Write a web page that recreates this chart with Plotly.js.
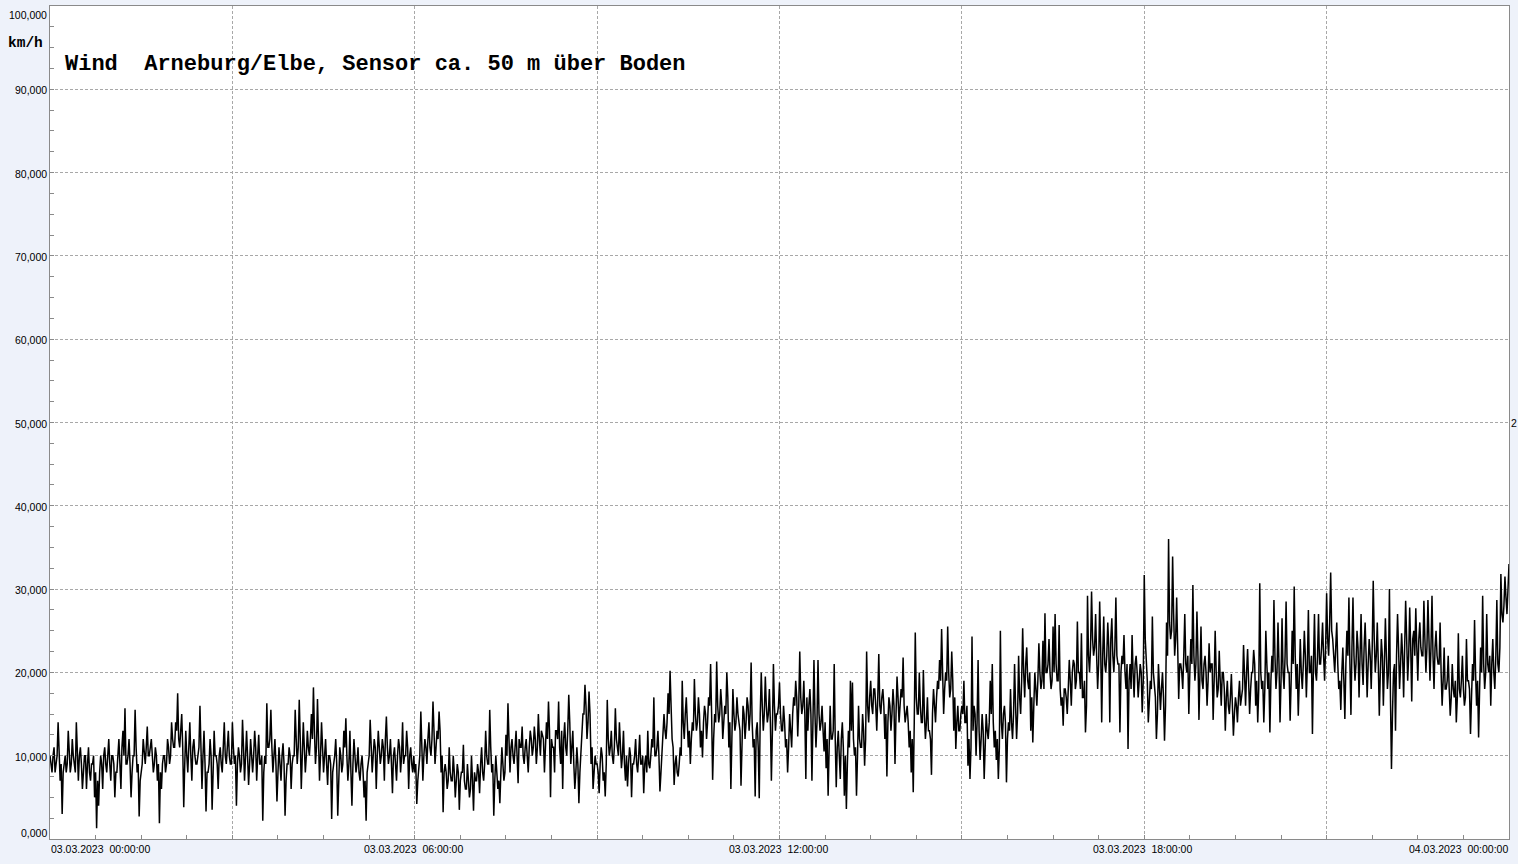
<!DOCTYPE html>
<html><head><meta charset="utf-8">
<script src="https://cdn.plot.ly/plotly-3.0.1.min.js"></script>
<style>html,body{margin:0;padding:0;background:#eef2fa;overflow:hidden}#chart{width:1518px;height:864px}</style>
</head><body><div id="chart"></div>
<script>
// ---- data (km/h) ----
// "peak" arrays: the even minutes (extremes of the trace), "core" arrays: the odd minutes (centre of the dense band)
const startTime = Date.UTC(2023, 2, 3, 0, 0, 0);
const endTime = Date.UTC(2023, 2, 4, 0, 0, 0);
const sampleMinutes = 1;

const wind0003 = [10,8,11,9,14, 7,3,9,8, 13,8,12,9,14,7,11,6, 10,6,11,7,9,5, 1.3, 4,10,6,11,8,12,7,10,5, 8,12,6,13,15.7,9,12,5,10,15.5,8, 2.7, 8,12,9,13.5,10,12,8,11,7, 1.9, 6,10,8,12,9,14,11, 14,17.5,11,15, 3.8,13,8,14,7,12,9, 10,16,6,13, 3.3, 8,12,3.5,13,10,6,11,8,14,9,13,9];
const core0003 = [9,10,8,10,9,9,8,10,9,11, 9,10,8,9,10,9,8,10,9,8, 9,10,8,7,8,9,10,9,10,9, 10,9,8,10,9,11,10,9,10,9, 8,10,11,9,7,9,10,11,10,11, 10,9,10,9,8,9,10,9,11,10, 12,11,13,12,13,11,9,10,11,10, 11,10,9,11,12,10,9,8,9,10, 8,10,9,10,9,11,10,11,10,9];
const wind0306 = [14,9,4,11,8, 14.3,7,13,6.5,12, 8,13,7,12.5,9, 2.2, 10,16.3,11,15.5, 8,12,4.5,11,7,11.5, 2.8, 9,11,6,10, 15.5,9,16.7, 6,14,8,13,10, 15,18.2, 9,16.8,7,14,8,12,6.5,10, 2.4, 9,12,2.8,11,8,13,14.5, 7,13,4,12,8,11, 7,10,5,2.2, 9,14.3,8,12,6,13,9,12,7,14.7, 9,12,5.5,11,7,12,8,14, 10,13,6,11,8];
const core0306 = [11,10,9,10,9,11,10,10,9,10, 10,11,10,9,10,8,9,11,12,11, 10,9,8,9,10,9,7,9,10,9, 10,12,11,12,10,11,10,11,12,12, 13,11,12,10,11,10,9,10,9,8, 10,9,8,10,9,11,10,9,8,9, 10,9,8,9,8,7,8,10,11,10, 11,10,11,10,11,12,11,10,9,10, 9,10,11,10,9,10,11,10,9,10];
const wind0609 = [8,4.2,9,15.3, 7,12,9,14,10,16.5,9,13,15.3, 8,3.2, 9,6,11,7,10,5,9, 3.5,8,11.3,6,9, 5,10,3.4,7,9,5.5, 11,7,13,9,15.5, 8,2.8, 10,6,4.3,11,7,12.5, 16.3, 8,12,9,13,6.7,11,13.5,9,12,8,13,10,13.5, 9,15,10,12.5,8, 14,16.5, 5,11,8,13, 16.5,9, 6,14,10, 17.3, 9,13,6,11,4.3, 10,15,18.5,12,17.7, 9,6,10];
const core0609 = [9,7,10,12,10,11,12,11,12,13, 11,12,13,10,8,8,7,8,7,8, 7,8,7,8,7,6,7,6,7,8, 7,8,9,8,9,10,9,11,9,7, 8,7,8,9,8,10,12,11,10,11, 10,12,11,10,11,10,11,12,11,12, 11,12,13,12,11,12,13,12,11,13, 12,11,13,12,11,13,14,11,9,8, 9,8,13,15,16,14,15,11,8,9];
const wind0912 = [9,5.5,11,7,5.1, 16.7,10,13,9,15.7,11, 14,8.5,13,7,6.3,11, 5, 9,12,8,12.5,9, 5.5, 10,13,8.5,12, 17, 10,13, 5.7, 11,15,12,17.5,20.2, 12,6.5,10,7.5,11, 19,12, 17,11,9,14, 19.2, 13,17,11,9.8,16,12, 17,21,7.1,15, 21.3, 14,18,12,16,20,11, 6, 18,13,17,14,6.4, 16,12,17,13,21.2, 11,5.1,14, 4.9, 20,13,19.5,14,18,7, 21,13,15];
const core0912 = [8,9,10,8,9,12,11,10,11,12, 10,11,10,9,10,9,10,9,10,9, 10,9,10,9,8,9,10,11,10,11, 10,8,12,13,14,15,16,11,9,8, 9,10,14,15,14,13,12,13,15,14, 15,13,14,15,14,16,15,12,14,16, 15,16,14,15,17,14,12,15,14,15, 13,14,15,14,16,15,14,12,13,11, 15,16,15,16,15,14,13,16,15,16];
const wind1215 = [18.8,13,16,11, 8, 15,11,17,19, 12.3,22.5, 15,19, 7.2, 13,18, 7, 21.5,11,21.5, 13,16,10.5,8.5, 5.2, 16,12,21, 6.2,13,7.2,14, 5.2, 3.6, 13,19,18.8, 10, 5.2, 16,11,15,8.8, 22.5, 14,19,15,18,13, 22.2, 15,18,12, 7.5, 17,13,18,9,19.5, 14,18, 21.8, 14,16,11,8, 5.6, 24.8, 15,20,14,20.3,12, 17,13,7.7, 18,14,19, 21.5, 25.2, 15,20, 25.5, 17,22.5,13, 10.8,16,13];
const core1215 = [15,13,14,12,11,13,15,16,17,16, 17,16,15,17,16,15,14,15,14,15, 14,13,14,12,11,12,13,12,11,10, 12,11,10,9,11,13,12,11,10,12, 11,13,12,16,17,16,18,16,17,16, 17,16,15,14,16,15,16,15,17,16, 17,16,15,14,13,12,14,17,15,16, 14,15,14,13,12,15,16,17,18,19, 20,18,19,20,18,19,17,14,13,15];
const wind1518 = [16,19,14, 8.8, 7.2, 24.3,16, 10, 21.5,9.5, 15, 7.2, 15,12,19,21,11, 9.5, 7.2, 25, 12,16, 6.8, 14,18,12,21,12, 22,15,25.3, 17,23,18,13, 11.6, 20,16,23.5, 18,23.8, 27.1, 20,24,18, 25.5, 27, 19,25.7,16,13.6, 18,15,21.5,16,21.5, 18,26.1,20, 24.7,17, 12.8, 29.2,20, 29.7, 22,27,18,28.5, 14, 26.7,20,26, 14, 26.5,20,29, 21,12.8,22, 24.5,18, 10.8, 21,24.5,17,22, 17,21,15.2];
const core1518 = [15,14,16,12,11,13,15,14,13,12, 13,11,13,14,15,14,13,12,11,14, 15,14,12,13,14,15,16,15,17,19, 20,21,19,20,17,16,18,19,20,19, 18,20,21,20,19,20,21,19,18,17, 18,17,18,19,20,21,19,20,18,17, 19,16,22,23,24,23,22,21,23,22, 21,22,23,24,22,23,22,21,20,21, 20,21,19,18,20,21,20,19,20,19];
const wind1821 = [31.7, 22,14,19, 26.7, 18, 12, 21,15.5,20, 11.8, 26, 36, 24,33.9, 22,29, 16.8,21,18, 27, 20, 15, 24,30.5,19, 27.3, 14.3, 25.5,18,22,16, 23.5,21,14.3, 25,17,22.6, 16,20, 13, 19,15,19.8,12.4, 17,14,19, 17, 23.3, 16,22.8,15,20,22.7,16, 14, 30.7, 18,14, 25,18, 12.8, 22,28.7, 18,26, 14, 26.5,18,28.5, 20,14.2, 25,30.3,18, 14.8, 24,18,25,17,27.5, 20, 12.6, 27,19,27, 21,26,19];
const core1821 = [24,19,17,18,20,17,15,17,18,17, 16,22,26,25,27,24,23,21,20,22, 21,22,20,21,22,21,22,20,19,21, 20,19,20,21,19,20,18,19,20,18, 17,16,17,16,15,16,17,16,18,19, 20,19,18,20,21,19,18,20,19,18, 21,20,19,20,22,20,21,19,20,22, 21,20,19,21,22,21,19,20,21,22, 21,20,22,21,20,22,21,23,22,23];
const wind2124 = [29.5,22, 32, 24,20,26,18, 15.5, 23, 14.4, 25, 29, 14.9, 29, 19,25,17,27,18.5,26,17, 24,18, 31, 20,26,14.8, 24,16,26.5,18, 30, 8.4, 20, 13, 27,18,24.7,17, 28.6, 19,27.8,16.5,25, 27.7, 19,26,22, 28.6, 20,28.7,19, 29.2, 18,25,21,26, 16,23,18,22, 14.8, 21,17, 14, 24.7,17,22, 16,24,19, 12.6, 21,26.3,16, 12.2, 23,29.2, 18,27,20,16, 24,18,28.7, 20, 31.8, 26,31.5,27, 33];
const core2124 = [24,26,25,22,23,21,19,20,19,21, 22,21,23,22,21,23,22,21,23,22, 21,22,23,24,22,21,20,22,21,22, 20,17,15,21,22,23,21,22,23,24, 22,23,24,22,23,24,23,22,24,23, 24,23,22,23,22,21,20,19,18,19, 18,17,18,19,17,18,19,18,17,19, 18,17,19,20,19,18,20,21,20,21, 22,21,20,22,21,23,27,28,29,30];

// ---- axis labels ----
const yTickValues = [0,10,20,30,40,50,60,70,80,90,100];
const yTickLabels = ['0,000','10,000','20,000','30,000','40,000','50,000','60,000','70,000','80,000','90,000','100,000'];
const xLabelTimes = ['2023-03-03 00:00:00','2023-03-03 06:00:00','2023-03-03 12:00:00','2023-03-03 18:00:00','2023-03-04 00:00:00'];
const xLabelTexts = ['03.03.2023\u00a0 00:00:00','03.03.2023\u00a0 06:00:00','03.03.2023\u00a0 12:00:00','03.03.2023\u00a0 18:00:00','04.03.2023\u00a0 00:00:00'];
const chartTitle = 'Wind\u00a0 Arneburg/Elbe, Sensor ca. 50 m über Boden';
const unitLabel = 'km/h';
const sideLabel = '2';
const sideLabelValue = 50;

// ---- build: interleave peak and core readings minute by minute ----
const peakBlocks = [wind0003, wind0306, wind0609, wind0912, wind1215, wind1518, wind1821, wind2124];
const coreBlocks = [core0003, core0306, core0609, core0912, core1215, core1518, core1821, core2124];
const speeds = [];
peakBlocks.forEach((blk, b) => {
  coreBlocks[b].forEach((c, i) => { speeds.push(blk[i]); speeds.push(c); });
  for (let i = coreBlocks[b].length; i < blk.length; i++) speeds.push(blk[i]);
});
function fmt(ms){ return new Date(ms).toISOString().slice(0,19).replace('T',' '); }
const times = speeds.map((v,i) => fmt(startTime + i*sampleMinutes*60000));

const gridCol = '#a8a8a8';
const frameCol = '#8a8a8a';
const tickFont = {family:'Liberation Sans, Arial, sans-serif', size:10.5, color:'#000'};

const annotations = [];
yTickValues.forEach((v,i) => {
  let ys = -1;
  if (i === 0) ys = 6.5;
  if (i === yTickValues.length-1) ys = -8.5;
  annotations.push({xref:'paper', yref:'y', x:0, y:v, xanchor:'right', yanchor:'middle', xshift:-2, yshift:ys, text:yTickLabels[i], showarrow:false, font:tickFont, borderpad:0});
});
xLabelTimes.forEach((t,i) => {
  let anchor = 'center', xs = -1.5;
  if (i === 0) { anchor = 'left'; xs = 0; }
  if (i === xLabelTimes.length-1) { anchor = 'right'; xs = 0; }
  annotations.push({xref:'x', yref:'paper', x:t, y:0, xanchor:anchor, yanchor:'middle', xshift:xs, yshift:-10, text:xLabelTexts[i], showarrow:false, font:tickFont, borderpad:0});
});
annotations.push({xref:'paper', yref:'paper', x:0, y:1, xanchor:'left', yanchor:'middle', xshift:14, yshift:-58, text:'<b>'+chartTitle+'</b>', showarrow:false, font:{family:'Liberation Mono, Courier New, monospace', size:22, color:'#000'}, borderpad:0});
annotations.push({xref:'paper', yref:'paper', x:0, y:1, xanchor:'center', yanchor:'middle', xshift:-24.5, yshift:-37, text:'<b>'+unitLabel+'</b>', showarrow:false, font:{family:'Liberation Mono, Courier New, monospace', size:14.5, color:'#000'}, borderpad:0});
annotations.push({xref:'paper', yref:'y', x:1, y:sideLabelValue, xanchor:'left', yanchor:'middle', xshift:1, text:sideLabel, showarrow:false, font:tickFont, borderpad:0});

const trace = {x:times, y:speeds, type:'scatter', mode:'lines', line:{color:'#000', width:1.5}, hoverinfo:'skip'};

const layout = {
  width:1518, height:864,
  margin:{l:50, r:9, t:6, b:25, pad:0},
  paper_bgcolor:'#eef2fa', plot_bgcolor:'#ffffff',
  showlegend:false,
  xaxis:{type:'date', range:[fmt(startTime), fmt(endTime)], tickmode:'linear', tick0:fmt(startTime), dtick:3*3600000,
    showticklabels:false, showgrid:true, gridcolor:gridCol, griddash:'3px,2px', gridwidth:1,
    ticks:'inside', ticklen:4, tickcolor:frameCol,
    minor:{tick0:fmt(startTime), dtick:45*60000, ticks:'inside', ticklen:4, tickcolor:frameCol, showgrid:false},
    showline:true, mirror:true, linecolor:frameCol, linewidth:1, zeroline:false, fixedrange:true},
  yaxis:{range:[0,100], tickmode:'linear', tick0:0, dtick:10, showticklabels:false,
    showgrid:true, gridcolor:gridCol, griddash:'3px,2px', gridwidth:1,
    ticks:'inside', ticklen:4, tickcolor:frameCol,
    minor:{dtick:2.5, ticks:'inside', ticklen:4, tickcolor:frameCol, showgrid:false},
    showline:true, mirror:true, linecolor:frameCol, linewidth:1, zeroline:false, fixedrange:true},
  annotations:annotations
};

Plotly.newPlot('chart', [trace], layout, {staticPlot:true, displayModeBar:false});
</script>
</body></html>
